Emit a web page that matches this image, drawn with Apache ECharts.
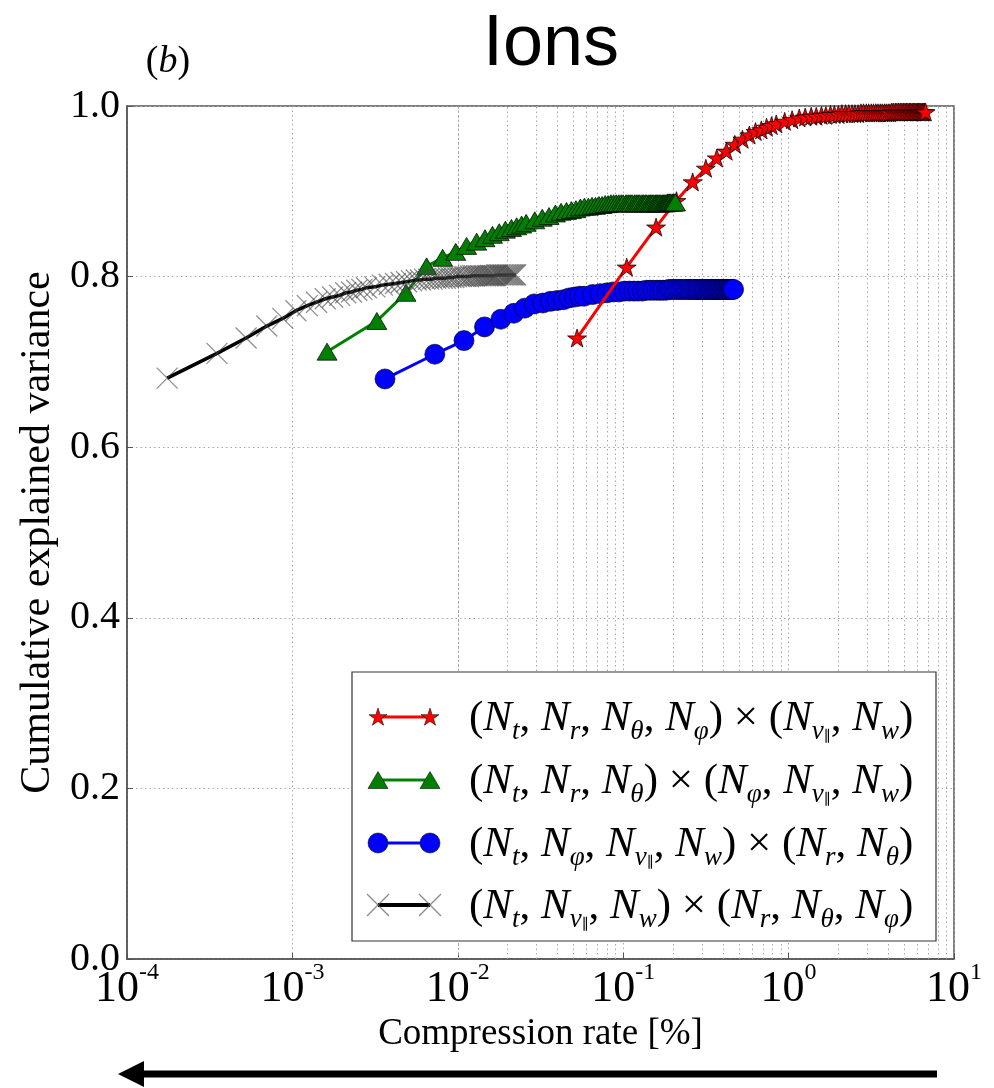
<!DOCTYPE html>
<html>
<head>
<meta charset="utf-8">
<script src="https://cdn.jsdelivr.net/npm/echarts@6/dist/echarts.min.js"></script>
<style>
  html, body { margin: 0; padding: 0; background: #ffffff; }
  #chart { width: 994px; height: 1088px; }
</style>
</head>
<body>
<div id="chart"></div>
<script>
// Compression rate [%] and cumulative explained variance, one pair of arrays per decomposition
const redRate = [0.0526, 0.105, 0.158, 0.210, 0.263, 0.316, 0.368, 0.421, 0.473, 0.526, 0.579, 0.631, 0.684, 0.736, 0.789, 0.842,
  0.947, 1.05, 1.16, 1.26, 1.37, 1.47, 1.58, 1.68, 1.79, 1.89, 2.00, 2.10, 2.21, 2.31, 2.42, 2.52, 2.63, 2.74, 2.84, 2.95, 3.05, 3.16,
  3.26, 3.37, 3.47, 3.58, 3.68, 3.79, 3.89, 4.00, 4.10, 4.21, 4.31, 4.42, 4.52, 4.63, 4.73, 4.84, 4.94, 5.05, 5.15, 5.26, 5.37, 5.47,
  5.58, 5.68, 5.79, 5.89, 6.00, 6.10, 6.21, 6.31, 6.42, 6.52, 6.63, 6.73];
const redVar = [0.728, 0.811, 0.858, 0.889, 0.911, 0.927, 0.939, 0.947, 0.955, 0.961, 0.966, 0.970, 0.972, 0.975, 0.977, 0.979,
  0.982, 0.984, 0.986, 0.987, 0.988, 0.988, 0.989, 0.989, 0.990, 0.990, 0.990, 0.991, 0.991, 0.991, 0.991, 0.991, 0.991, 0.992, 0.992, 0.992, 0.992, 0.992,
  0.992, 0.992, 0.992, 0.992, 0.992, 0.992, 0.992, 0.992, 0.992, 0.993, 0.993, 0.993, 0.993, 0.993, 0.993, 0.993, 0.993, 0.993, 0.993, 0.993, 0.993, 0.993,
  0.993, 0.993, 0.993, 0.993, 0.993, 0.993, 0.993, 0.993, 0.993, 0.993, 0.993, 0.993];

const greenRate = [0.00162, 0.00324, 0.00486, 0.00648, 0.0081, 0.00972, 0.0113, 0.013, 0.0146, 0.0162, 0.0178, 0.0194, 0.0211, 0.0227, 0.0243, 0.0259,
  0.0292, 0.0324, 0.0356, 0.0389, 0.0421, 0.0454, 0.0486, 0.0518, 0.0551, 0.0583, 0.0616, 0.0648, 0.068, 0.0713, 0.0745, 0.0778, 0.081, 0.0842, 0.0875, 0.0907, 0.094, 0.0972,
  0.100, 0.104, 0.107, 0.110, 0.113, 0.117, 0.120, 0.123, 0.126, 0.130, 0.133, 0.136, 0.139, 0.143, 0.146, 0.149, 0.152, 0.156, 0.159, 0.162, 0.165, 0.168,
  0.172, 0.175, 0.178, 0.181, 0.185, 0.188, 0.191, 0.194, 0.198, 0.201, 0.204, 0.207];
const greenVar = [0.712, 0.748, 0.781, 0.812, 0.822, 0.829, 0.836, 0.841, 0.845, 0.849, 0.852, 0.855, 0.857, 0.859, 0.861, 0.863,
  0.866, 0.869, 0.871, 0.874, 0.876, 0.877, 0.878, 0.879, 0.881, 0.882, 0.882, 0.883, 0.883, 0.884, 0.884, 0.885, 0.885, 0.886, 0.886, 0.886, 0.886, 0.886,
  0.886, 0.886, 0.886, 0.886, 0.886, 0.886, 0.886, 0.886, 0.886, 0.886, 0.886, 0.886, 0.886, 0.886, 0.886, 0.886, 0.886, 0.886, 0.886, 0.886, 0.886, 0.886,
  0.886, 0.886, 0.886, 0.886, 0.887, 0.887, 0.887, 0.887, 0.887, 0.887, 0.887, 0.887];

const blueRate = [0.00363, 0.00726, 0.0109, 0.0145, 0.0182, 0.0218, 0.0254, 0.029, 0.0327, 0.0363, 0.0399, 0.0436, 0.0472, 0.0508, 0.0545, 0.0581,
  0.0653, 0.0726, 0.0799, 0.0871, 0.0944, 0.102, 0.109, 0.116, 0.123, 0.131, 0.138, 0.145, 0.152, 0.160, 0.167, 0.174, 0.182, 0.189, 0.196, 0.203, 0.211, 0.218,
  0.225, 0.232, 0.240, 0.247, 0.254, 0.261, 0.269, 0.276, 0.283, 0.290, 0.298, 0.305, 0.312, 0.319, 0.327, 0.334, 0.341, 0.348, 0.356, 0.363, 0.370, 0.378,
  0.385, 0.392, 0.399, 0.407, 0.414, 0.421, 0.428, 0.436, 0.443, 0.450, 0.457, 0.465];
const blueVar = [0.680, 0.709, 0.725, 0.741, 0.750, 0.757, 0.763, 0.768, 0.769, 0.771, 0.772, 0.773, 0.775, 0.776, 0.777, 0.777,
  0.779, 0.780, 0.781, 0.782, 0.782, 0.783, 0.783, 0.783, 0.783, 0.783, 0.784, 0.784, 0.784, 0.784, 0.784, 0.784, 0.784, 0.785, 0.785, 0.785, 0.785, 0.785,
  0.785, 0.785, 0.785, 0.785, 0.785, 0.785, 0.785, 0.785, 0.785, 0.785, 0.785, 0.785, 0.785, 0.785, 0.785, 0.785, 0.785, 0.785, 0.785, 0.785, 0.785, 0.785,
  0.785, 0.785, 0.785, 0.785, 0.785, 0.785, 0.785, 0.785, 0.785, 0.785, 0.785, 0.785];

const blackRate = [0.000175, 0.00035, 0.000525, 0.0007, 0.000875, 0.00105, 0.00123, 0.0014, 0.00158, 0.00175, 0.00193, 0.0021, 0.00228, 0.00245, 0.00263, 0.0028,
  0.00315, 0.0035, 0.00385, 0.0042, 0.00455, 0.0049, 0.00525, 0.0056, 0.00595, 0.0063, 0.00665, 0.007, 0.00735, 0.0077, 0.00805, 0.0084, 0.00875, 0.0091, 0.00945, 0.0098, 0.0102, 0.0105,
  0.0109, 0.0112, 0.0116, 0.0119, 0.0123, 0.0126, 0.013, 0.0133, 0.0137, 0.014, 0.0144, 0.0147, 0.0151, 0.0154, 0.0158, 0.0161, 0.0165, 0.0168, 0.0172, 0.0175, 0.0179, 0.0182,
  0.0186, 0.0189, 0.0193, 0.0196, 0.02, 0.0203, 0.0207, 0.021, 0.0214, 0.0217, 0.0221, 0.0224];
const blackVar = [0.681, 0.710, 0.728, 0.742, 0.751, 0.760, 0.766, 0.770, 0.774, 0.776, 0.778, 0.781, 0.782, 0.784, 0.785, 0.787,
  0.788, 0.790, 0.791, 0.792, 0.793, 0.794, 0.795, 0.796, 0.796, 0.797, 0.797, 0.797, 0.798, 0.798, 0.798, 0.798, 0.799, 0.799, 0.799, 0.800, 0.800, 0.800,
  0.800, 0.800, 0.800, 0.801, 0.801, 0.801, 0.801, 0.801, 0.801, 0.801, 0.801, 0.801, 0.801, 0.801, 0.801, 0.801, 0.801, 0.801, 0.802, 0.802, 0.802, 0.802,
  0.802, 0.802, 0.802, 0.802, 0.802, 0.802, 0.802, 0.802, 0.802, 0.802, 0.802, 0.802];

// Axis ticks
const xMajorTicks = [1e-4, 1e-3, 1e-2, 1e-1, 1, 10];
const xMinorSteps = [2, 3, 4, 5, 6, 7, 8, 9];
const yTicks = [0.0, 0.2, 0.4, 0.6, 0.8, 1.0];

// Legend labels (rich-text markup for the index tuples)
const legendLabels = [
  '{p|(}{n|N}{s|t}{p|, }{n|N}{s|r}{p|, }{n|N}{s|θ}{p|, }{n|N}{s|φ}{p|) × (}{n|N}{s|v}{ss|∥}{p|, }{n|N}{s|w}{p|)}',
  '{p|(}{n|N}{s|t}{p|, }{n|N}{s|r}{p|, }{n|N}{s|θ}{p|) × (}{n|N}{s|φ}{p|, }{n|N}{s|v}{ss|∥}{p|, }{n|N}{s|w}{p|)}',
  '{p|(}{n|N}{s|t}{p|, }{n|N}{s|φ}{p|, }{n|N}{s|v}{ss|∥}{p|, }{n|N}{s|w}{p|) × (}{n|N}{s|r}{p|, }{n|N}{s|θ}{p|)}',
  '{p|(}{n|N}{s|t}{p|, }{n|N}{s|v}{ss|∥}{p|, }{n|N}{s|w}{p|) × (}{n|N}{s|r}{p|, }{n|N}{s|θ}{p|, }{n|N}{s|φ}{p|)}'
];

const SERIF = 'Liberation Serif, DejaVu Serif, serif';
// five-pointed star outline in a 100x100 box, centred on (50,50)
const STAR_PTS = [[50,0],[61.23,34.55],[97.55,34.55],[68.17,55.9],[79.39,90.45],[50,69.1],[20.61,90.45],[31.83,55.9],[2.45,34.55],[38.77,34.55]];
const STAR = 'path://M' + STAR_PTS.map(p => p.join(',')).join('L') + 'Z';
const CROSS = 'path://M0,0L10,10M10,0L0,10';

const pairs = (xs, ys) => xs.map((x, i) => [x, ys[i]]);

const minorGrid = [];
xMajorTicks.slice(0, -1).forEach(d => xMinorSteps.forEach(m => minorGrid.push({ xAxis: d * m })));

const gridDot = { color: '#a8a8a8', width: 1, type: [1.5, 3] };
const EDGE = 'rgba(0,0,0,0.8)';

const seriesList = [
  {
    name: 'blue', type: 'line', z: 3,
    data: pairs(blueRate, blueVar),
    symbol: 'circle', symbolSize: 20, showAllSymbol: true,
    lineStyle: { color: '#0000ff', width: 3 },
    itemStyle: { color: '#0000ff', borderColor: EDGE, borderWidth: 0.8 },
    markLine: {
      silent: true, z: 1, animation: false,
      symbol: ['none', 'none'], label: { show: false },
      lineStyle: gridDot,
      data: minorGrid
    }
  },
  {
    name: 'red', type: 'line', z: 4,
    data: pairs(redRate, redVar),
    symbol: STAR, symbolSize: [19, 18], showAllSymbol: true,
    lineStyle: { color: '#ff0000', width: 3 },
    itemStyle: { color: '#ff0000', borderColor: EDGE, borderWidth: 0.9 }
  },
  {
    name: 'green', type: 'line', z: 5,
    data: pairs(greenRate, greenVar),
    symbol: 'triangle', symbolSize: [20, 17], showAllSymbol: true,
    lineStyle: { color: '#008000', width: 3 },
    itemStyle: { color: '#008000', borderColor: EDGE, borderWidth: 0.9 }
  },
  {
    name: 'black', type: 'line', z: 6,
    data: pairs(blackRate, blackVar),
    symbol: CROSS, symbolSize: 21, showAllSymbol: true,
    lineStyle: { color: '#000000', width: 3.5 },
    itemStyle: { color: 'rgba(0,0,0,0)', borderColor: 'rgba(70,70,70,0.6)', borderWidth: 1.3 }
  }
];
seriesList.forEach(s => { s.animation = false; s.emphasis = { disabled: true }; s.silent = true; });

// Legend box drawn with graphic primitives
const legendRows = [
  { y: 717, color: '#ff0000', kind: 'star', lw: 3 },
  { y: 780, color: '#008000', kind: 'tri', lw: 3 },
  { y: 843, color: '#0000ff', kind: 'circle', lw: 3 },
  { y: 905, color: '#000000', kind: 'cross', lw: 4 }
];
const mx1 = 378, mx2 = 430;
const legendGraphics = [{
  type: 'rect', shape: { x: 352, y: 672, width: 584, height: 269 },
  style: { fill: '#ffffff', stroke: '#333333', lineWidth: 1.2 }, z: 50
}];
function markerGraphic(kind, cx, cy, color) {
  if (kind === 'star') {
    return { type: 'polygon', shape: { points: STAR_PTS.map(p => [cx + (p[0] - 50) * 0.19, cy + (p[1] - 47) * 0.19]) },
      style: { fill: color, stroke: EDGE, lineWidth: 0.7 }, z: 52 };
  }
  if (kind === 'tri') {
    return { type: 'polygon', shape: { points: [[cx, cy - 8.5], [cx + 10, cy + 8.5], [cx - 10, cy + 8.5]] },
      style: { fill: color, stroke: EDGE, lineWidth: 0.7 }, z: 52 };
  }
  if (kind === 'circle') {
    return { type: 'circle', shape: { cx: cx, cy: cy, r: 10 },
      style: { fill: color, stroke: EDGE, lineWidth: 0.7 }, z: 52 };
  }
  return { type: 'group', children: [
    { type: 'line', shape: { x1: cx - 11, y1: cy - 11, x2: cx + 11, y2: cy + 11 }, style: { stroke: 'rgba(90,90,90,0.7)', lineWidth: 1.2 }, z: 52 },
    { type: 'line', shape: { x1: cx + 11, y1: cy - 11, x2: cx - 11, y2: cy + 11 }, style: { stroke: 'rgba(90,90,90,0.7)', lineWidth: 1.2 }, z: 52 }
  ] };
}
const mathRich = {
  p: { fontFamily: SERIF, fontSize: 43, lineHeight: 52, fill: '#000' },
  n: { fontFamily: SERIF, fontStyle: 'italic', fontSize: 43, lineHeight: 52, fill: '#000' },
  s: { fontFamily: SERIF, fontStyle: 'italic', fontSize: 27, lineHeight: 30, verticalAlign: 'bottom', fill: '#000' },
  ss: { fontFamily: 'DejaVu Serif, serif', fontSize: 15, lineHeight: 16, verticalAlign: 'bottom', fill: '#000' }
};
legendRows.forEach((row, i) => {
  legendGraphics.push({ type: 'line', shape: { x1: mx1, y1: row.y, x2: mx2, y2: row.y },
    style: { stroke: row.color, lineWidth: row.lw }, z: 51 });
  legendGraphics.push(markerGraphic(row.kind, mx1, row.y, row.color));
  legendGraphics.push(markerGraphic(row.kind, mx2, row.y, row.color));
  legendGraphics.push({ type: 'text', x: 469, y: row.y + 2, z: 52,
    style: { text: legendLabels[i], rich: mathRich, verticalAlign: 'middle', align: 'left' } });
});

const chart = echarts.init(document.getElementById('chart'), null, { renderer: 'canvas' });
chart.setOption({
  animation: false,
  backgroundColor: '#ffffff',
  grid: { left: 127, right: 40, top: 106, bottom: 129, show: true, borderColor: '#555555', borderWidth: 1.5, backgroundColor: 'transparent' },
  xAxis: {
    type: 'log', logBase: 10, min: xMajorTicks[0], max: xMajorTicks[xMajorTicks.length - 1], splitNumber: 5,
    name: 'Compression rate [%]', nameLocation: 'middle', nameGap: 56,
    nameTextStyle: { fontFamily: SERIF, fontSize: 37, color: '#000' },
    axisLine: { show: true, lineStyle: { color: '#555555', width: 1.5 } },
    axisTick: { show: true, inside: true, length: 6, lineStyle: { color: '#555555' } },
    splitLine: { show: true, lineStyle: gridDot },
    axisLabel: {
      margin: 2,
      formatter: v => '{b|10}{e|' + Math.round(Math.log10(v)) + '}',
      rich: {
        b: { fontFamily: SERIF, fontSize: 44, lineHeight: 56, color: '#000' },
        e: { fontFamily: SERIF, fontSize: 24, lineHeight: 18, verticalAlign: 'top', color: '#000' }
      }
    }
  },
  yAxis: {
    type: 'value', min: yTicks[0], max: yTicks[yTicks.length - 1], interval: 0.2,
    name: 'Cumulative explained variance', nameLocation: 'middle', nameGap: 62,
    nameTextStyle: { fontFamily: SERIF, fontSize: 42, color: '#000' },
    axisLine: { show: true, lineStyle: { color: '#555555', width: 1.5 } },
    axisTick: { show: true, inside: true, length: 6, lineStyle: { color: '#555555' } },
    splitLine: { show: true, lineStyle: gridDot },
    axisLabel: { margin: 7, fontFamily: SERIF, fontSize: 40, color: '#000', formatter: v => v.toFixed(1) }
  },
  series: seriesList,
  graphic: [
    { type: 'text', x: 551, y: 45, z: 60,
      style: { text: 'Ions', fontFamily: 'Liberation Sans, Arial, sans-serif', fontSize: 72, fill: '#000', align: 'center', verticalAlign: 'middle' } },
    { type: 'text', x: 168, y: 62, z: 60,
      style: { text: '{p|(}{i|b}{p|)}', align: 'center', verticalAlign: 'middle',
        rich: { p: { fontFamily: SERIF, fontSize: 38, fill: '#000' }, i: { fontFamily: SERIF, fontStyle: 'italic', fontSize: 38, fill: '#000' } } } },
    { type: 'line', shape: { x1: 937, y1: 1074, x2: 138, y2: 1074 }, style: { stroke: '#000', lineWidth: 7 }, z: 60 },
    { type: 'polygon', shape: { points: [[118, 1074], [144, 1061], [144, 1087]] }, style: { fill: '#000' }, z: 60 }
  ].concat(legendGraphics)
});
</script>
</body>
</html>
